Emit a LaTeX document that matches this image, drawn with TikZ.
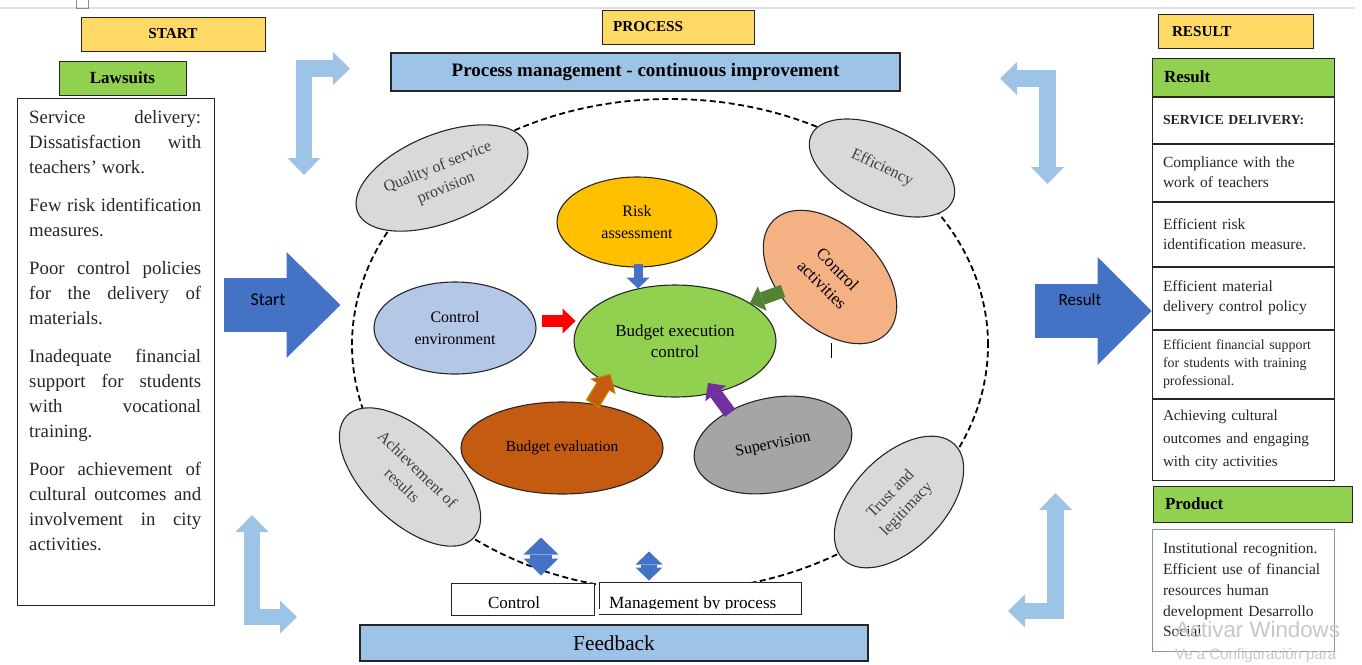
\documentclass[tikz,border=0pt]{standalone}
\usepackage{fontspec}
\setmainfont{Liberation Serif}
\newfontfamily\calibrifont{Carlito}
\newfontfamily\winfont{Liberation Sans}
\usetikzlibrary{positioning,shapes.geometric,arrows.meta}

\definecolor{gold}{HTML}{FFD966}
\definecolor{leaf}{HTML}{92D050}
\definecolor{sky}{HTML}{9DC3E6}
\definecolor{steel}{HTML}{4472C4}
\definecolor{silver}{HTML}{D9D9D9}
\definecolor{envblue}{HTML}{B4C7E7}
\definecolor{amber}{HTML}{FFC000}
\definecolor{rust}{HTML}{C55A11}
\definecolor{ochre}{HTML}{BF9000}
\definecolor{ash}{HTML}{A5A5A5}
\definecolor{salmon}{HTML}{F4B183}
\definecolor{moss}{HTML}{548235}
\definecolor{plum}{HTML}{7030A0}
\definecolor{slate}{HTML}{8497B0}

\newcommand{\pxfont}[2]{\fontsize{#1}{#2}\selectfont}

\begin{document}
\begin{tikzpicture}
    [x=1pt, y=-1pt,
     box/.style={draw=black!85, line width=1pt, inner sep=0pt},
     titlebox/.style={box, fill=gold, minimum height=34pt, font=\pxfont{15.2}{18}\bfseries},
     tagbox/.style={box, fill=leaf, minimum height=35pt, font=\pxfont{17}{20}\bfseries},
     band/.style={box, fill=sky, line width=1.2pt},
     rbox/.style={box, minimum width=182pt, text width=160pt, align=left, text=black!85, font=\pxfont{15.5}{20}},
     oval/.style={ellipse, draw=black!85, line width=1.1pt, inner sep=0pt, align=center, font=\pxfont{16}{22}},
     outer/.style={oval, fill=silver, text=black!75},
     ring/.style={dash pattern=on 6pt off 3.5pt, line width=1.8pt},
     fat/.style={line width=13pt, -{Triangle[width=26pt, length=13pt, line width=0pt]}},
     elbow/.style={sky, line width=16.5pt, {Triangle[width=33pt, length=17pt, line width=0pt]}-{Triangle[width=33pt, length=17pt, line width=0pt]}}]

    \useasboundingbox (0,0) rectangle (1362,664);
    \draw[black!12, line width=2pt] (0,8) -- (1355,8);
    \draw[black!45, line width=0.7pt] (76,-2) rectangle (88,8);

    % start
    \node[titlebox, minimum width=184pt] (start) at (173,34) {START};
    \node[tagbox, minimum width=127pt, minimum height=34pt] (lawsuits) at (122.5,78) {Lawsuits};
    \node[box, minimum width=197pt, minimum height=507pt] (lawbox) at (115.5,351.5) {};
    \node[anchor=north west, inner sep=0pt, text width=172pt, align=justify, text=black!85, font=\pxfont{18.8}{25}] (lawtext) at (29,110)
      {Service delivery:\linebreak Dissatisfaction with\linebreak teachers{\char39} work.\par\vspace{13pt}
       Few risk identification\linebreak measures.\par\vspace{13pt}
       Poor control policies\linebreak for the delivery of\linebreak materials.\par\vspace{13pt}
       Inadequate financial\linebreak support for students\linebreak with vocational\linebreak training.\par\vspace{13pt}
       Poor achievement of\linebreak cultural outcomes and\linebreak involvement in city\linebreak activities.};

    \draw[steel, line width=54pt, -{Triangle[width=106pt, length=54pt, line width=0pt]}] ([shift={(9,-46.5)}]lawbox.east) -- ([shift={(126,-46.5)}]lawbox.east);
    \node[inner sep=0pt, font=\calibrifont\pxfont{18}{20}] (startlbl) at (268,300) {Start};

    % process
    \node[titlebox, minimum width=152pt, text width=130pt, align=left] (process) at (678,27) {PROCESS};
    \node[band, minimum width=509pt, minimum height=38pt, font=\pxfont{19}{22}\bfseries] (improve) at (645.5,72) {Process management - continuous improvement};

    \draw[ring] (670,345) ellipse [x radius=318pt, y radius=246pt];

    \node[outer, minimum width=182pt, minimum height=88pt, rotate=22] (quality) at (442,178) {Quality of service\\provision};
    \node[outer, minimum width=156pt, minimum height=80pt, rotate=-25] (efficiency) at (882,168) {Efficiency};
    \node[outer, minimum width=176pt, minimum height=90pt, rotate=-44] (achieve) at (410,477) {Achievement of\\results};
    \node[outer, minimum width=160pt, minimum height=92pt, rotate=46] (trust) at (899,502) {Trust and\\legitimacy};

    \node[oval, fill=salmon, minimum width=160pt, minimum height=100pt, rotate=-45, font=\pxfont{17}{22}] (ctrlact) at (830,277) {Control\\activities};
    \node[oval, fill=amber, minimum width=160pt, minimum height=90pt] (risk) at (637,222) {Risk\\assessment};
    \node[oval, fill=envblue, minimum width=162pt, minimum height=92pt] (env) at (455,328) {Control\\environment};
    \node[oval, fill=leaf, minimum width=202pt, minimum height=112pt, font=\pxfont{17}{21}] (budget) at (675,341) {Budget execution\\control};
    \node[oval, fill=rust, minimum width=202pt, minimum height=92pt, font=\pxfont{15.4}{20}] (evaluation) at (562,448) {Budget evaluation};
    \node[oval, fill=ash, minimum width=160pt, minimum height=94pt, rotate=12] (superv) at (773,445) {Supervision};

    \draw[fat, steel, line width=9pt, -{Triangle[width=23pt, length=11pt, line width=0pt]}] ([shift={(1,-4)}]risk.south) -- ([shift={(1,21)}]risk.south);
    \draw[fat, red, line width=12pt, -{Triangle[width=25pt, length=13pt, line width=0pt]}] ([shift={(5,-7)}]env.east) -- ([shift={(39,-7)}]env.east);
    \draw[fat, moss] ([shift={(-47,14)}]ctrlact.center) -- ([shift={(-80,26)}]ctrlact.center);
    \draw[fat, ochre, line width=15.5pt, -{Triangle[width=30pt, length=15pt, line width=0pt]}] ([shift={(30.4,-44)}]evaluation.center) -- ([shift={(48.7,-74.2)}]evaluation.center);
    \draw[fat, rust] ([shift={(31,-45)}]evaluation.center) -- ([shift={(48,-73)}]evaluation.center);
    \draw[fat, plum] ([shift={(-43,-32)}]superv.center) -- ([shift={(-65,-62)}]superv.center);
    \draw[line width=0.8pt] (831,343) -- (831,358);

    % feedback
    \node[box, fill=white, minimum width=143pt, minimum height=32pt] (control) at (522.5,599) {};
    \node[anchor=base, inner sep=0pt, font=\pxfont{17}{20}] (controltxt) at (514,608) {Control};
    \node[box, fill=white, minimum width=202pt, minimum height=32pt] (manage) at (700,598) {};
    \node[anchor=base west, inner sep=0pt, font=\pxfont{17.2}{20}] (managetxt) at (609,608) {Management by process};
    \fill[white] ([shift={(0.6,-5.5)}]manage.south west) rectangle ([shift={(-0.6,-0.6)}]manage.south east);
    \node[band, minimum width=508pt, minimum height=36pt, font=\pxfont{21.3}{24}] (feedback) at (614,643) {Feedback};

    \draw[steel, line width=22pt, {Triangle[width=35pt, length=17pt, line width=0pt]}-{Triangle[width=35pt, length=17pt, line width=0pt]}] ([shift={(18.5,-7)}]control.north) -- ([shift={(18.5,-45)}]control.north);
    \draw[steel, line width=16pt, {Triangle[width=27pt, length=13pt, line width=0pt]}-{Triangle[width=27pt, length=13pt, line width=0pt]}] ([shift={(-51,-1)}]manage.north) -- ([shift={(-51,-30)}]manage.north);

    % improvement loop
    \draw[elbow] (304,175) -- (304,68.5) -- (350,68.5);
    \draw[elbow] (1047.5,184) -- (1047.5,78.5) -- (1000,78.5);
    \draw[elbow] (252,515) -- (252,617) -- (297,617);
    \draw[elbow] (1055.5,493) -- (1055.5,611) -- (1008,611);

    % result
    \node[titlebox, minimum width=155pt, text width=127pt, align=left] (result) at (1235.5,31.5) {RESULT};
    \node[tagbox, minimum width=182pt, minimum height=38pt, text width=158pt, align=left] (reshead) at (1243,77) {Result};
    \node[rbox, minimum height=46pt, below=0pt of reshead, font=\pxfont{13.8}{18}\bfseries] (service) {SERVICE DELIVERY:};
    \node[rbox, minimum height=57pt, below=0pt of service] (comply) {Compliance with the\\work of teachers};
    \node[rbox, minimum height=64pt, below=0pt of comply] (riskmeas) {Efficient risk\\identification measure.};
    \node[rbox, minimum height=62pt, below=0pt of riskmeas] (material) {Efficient material\\delivery control policy};
    \node[rbox, minimum height=68pt, below=0pt of material, font=\pxfont{13.9}{18}] (finance) {Efficient financial support\\for students with training\\professional.};
    \node[rbox, minimum height=81pt, below=0pt of finance, font=\pxfont{15.2}{23}] (culture) {Achieving cultural\\outcomes and engaging\\with city activities};

    \draw[steel, line width=54pt, -{Triangle[width=108pt, length=54pt, line width=0pt]}] ([shift={(-117,13)}]material.west) -- ([shift={(0,13)}]material.west);
    \node[inner sep=0pt, font=\calibrifont\pxfont{17}{20}] (resultlbl) at (1080,300) {Result};

    \node[tagbox, minimum width=199pt, minimum height=36pt, text width=175pt, align=left] (product) at (1252.5,504) {Product};
    \node[rbox, draw=slate, minimum height=122pt, font=\pxfont{15.5}{20.7}] (prodtext) at (1243,590) {Institutional recognition.\\Efficient use of financial\\resources human\\development Desarrollo\\Social};

    \node[anchor=west, inner sep=0pt, text=black!22, font=\winfont\pxfont{22.3}{24}] (winmark) at (1175,630) {Activar Windows};
    \node[anchor=west, inner sep=0pt, text=black!22, font=\winfont\pxfont{15}{17}] (winhint) at (1175,656) {Ve a Configuración para};
\end{tikzpicture}
\end{document}
